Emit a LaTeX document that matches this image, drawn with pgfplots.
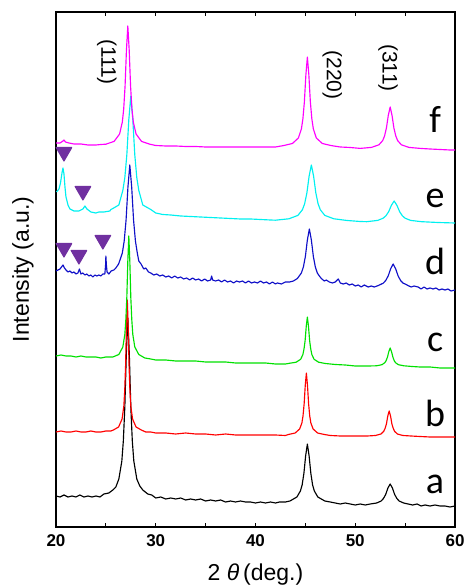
\documentclass[border=0pt]{standalone}
\usepackage{fontspec}
\setmainfont{Liberation Sans}
\newfontfamily\cali{Carlito}
\usepackage{pgfplots}
\pgfplotsset{compat=1.18}
\definecolor{cA}{HTML}{000000}
\definecolor{cB}{HTML}{FF0000}
\definecolor{cC}{HTML}{00E000}
\definecolor{cD}{HTML}{1010C8}
\definecolor{cE}{HTML}{00F0F0}
\definecolor{cF}{HTML}{FF00FF}
\definecolor{tri}{HTML}{7030A0}

\begin{document}
\begin{tikzpicture}
\begin{axis}[
    scale only axis,
    width=399bp, height=515bp,
    xmin=20, xmax=60, ymin=0, ymax=515,
    xtick={20,30,...,60},
    minor xtick={25,35,45,55},
    ytick=\empty,
    xtick pos=both,
    tick align=inside,
    major tick length=4bp, minor tick length=4bp,
    axis line style={line width=1.1bp},
    tick style={line width=1bp, black},
    /pgf/number format/assume math mode=true,
    xticklabel style={font=\bfseries\fontsize{17bp}{20bp}\selectfont, yshift=-4bp},
    xlabel={2 \textit{θ}\,(deg.)},
    xlabel style={font=\fontsize{23bp}{26bp}\selectfont, at={(axis description cs:0.5,-0.093)}, anchor=center},
    ylabel={Intensity (a.u.)},
    ylabel style={font=\fontsize{23bp}{26bp}\selectfont, at={(axis description cs:-0.083,0.5)}, anchor=center},
    clip=false,
    every axis plot/.append style={line width=1.15bp, line join=round},
]
\coordinate (sw) at (rel axis cs:0,0);
\coordinate (ne) at (rel axis cs:1,1);

% a
\addplot[cA] coordinates {
(20.0,31)(20.4,30)(20.8,32)(21.2,30)(21.6,31)(22.0,30)(22.4,32)(22.8,30)(23.2,31)(23.6,30)(24.0,31)(24.4,30)
(24.8,33)(25.3,34)(25.7,37)(26.0,40)(26.3,48)(26.6,66)(26.75,86)(26.9,120)(27.05,173)(27.2,209)(27.35,173)
(27.5,120)(27.65,86)(27.8,66)(28.1,48)(28.4,41)(28.7,37)(29.2,33)(29.6,32)(30.0,29)(30.5,30)(31.0,28)(31.5,29)
(32.0,28)(32.5,29)(33.0,27)(33.5,28)(34.0,27)(34.5,28)(35.0,26)(35.5,27)(36.0,26)(36.5,27)(37.0,25)(37.5,26)
(38.0,25)(38.5,26)(39.0,25)(39.5,25)(40.0,24)(40.5,25)(41.0,24)(41.5,25)(42.0,24)(42.4,25)(43.0,25)(43.45,26)
(43.8,28)(44.15,30)(44.5,36)(44.675,42)(44.85,53.5)(45.025,71)(45.2,83)(45.375,71)(45.55,53.5)(45.725,42)
(45.9,36)(46.25,30)(46.6,28)(46.95,26)(47.5,25)(48.0,24)(48.5,23)(49.0,24)(49.5,23)(50.0,22)(50.5,23)(51.0,22)
(51.5,23)(52.15,24)(52.6,26)(52.825,28.5)(53.05,32.5)(53.275,39)(53.5,43)(53.725,39)(53.95,32.5)(54.175,28.5)
(54.4,26)(54.85,24)(55.3,23)(55.75,22)(56.2,23)(56.6,21)(57.0,22)(57.5,21)(58.0,22)(58.5,21)(59.0,21)(59.5,20)(60.0,21)
};
% b
\addplot[cB] coordinates {
(20.0,95)(20.5,96)(21.0,95)(21.5,95)(22.0,96)(22.5,95)(23.0,95)(23.5,96)(24.0,95)(24.5,95)(25.0,96)(25.5,96)
(25.75,97)(26.275,100)(26.625,108)(26.8,121)(26.8875,136)(26.975,161)(27.0625,201)(27.15,227)(27.2375,201)
(27.325,161)(27.4125,136)(27.5,121)(27.675,108)(28.025,100)(28.55,97)(29.0,95)(29.5,95)(30.0,94)(31.0,94)
(32.0,93)(33.0,94)(34.0,93)(35.0,93)(36.0,92)(37.0,93)(38.0,92)(39.0,92)(40.0,92)(41.0,92)(42.0,92)(43.0,91.5)
(43.3,92.5)(43.975,94)(44.425,98)(44.65,104)(44.7625,111)(44.875,123)(44.9875,141.5)(45.1,154)(45.2125,141.5)
(45.325,123)(45.4375,111)(45.55,104)(45.775,98)(46.225,94)(46.9,92.5)(47.5,91.5)(48.5,91)(49.5,91)(50.5,91)
(51.2,91)(52.025,91.5)(52.575,93)(52.85,95.6)(52.9875,98.5)(53.125,103)(53.2625,111)(53.4,116)(53.5375,111)
(53.675,103)(53.8125,98.5)(53.95,95.6)(54.225,93)(54.775,91.5)(55.6,91)(56.5,90.5)(57.5,90)(58.5,90)(59.5,90)(60.0,90)
};
% c
\addplot[cC] coordinates {
(20.0,171)(20.5,172)(21.0,171)(21.5,171)(22.0,170)(22.5,171)(23.0,170)(23.5,170)(24.0,170)(24.5,169)(25.0,170)
(25.7,170)(26.3,172.5)(26.7,180)(26.9,192.5)(27.0,207)(27.1,229.5)(27.2,266)(27.3,291)(27.4,266)(27.5,229.5)
(27.6,207)(27.7,192.5)(27.9,180)(28.3,172.5)(28.9,169)(29.5,168)(30.0,167)(31.0,167)(32.0,166)(33.0,166)
(34.0,166)(35.0,165)(36.0,165)(37.0,165)(38.0,164)(39.0,164)(40.0,164)(41.0,164)(42.0,163)(43.0,163)
(43.4,163.7)(44.075,164.8)(44.525,167.7)(44.75,172.4)(44.8625,178)(44.975,186.5)(45.0875,200.6)(45.2,210)
(45.3125,200.6)(45.425,186.5)(45.5375,178)(45.65,172.4)(45.875,167.7)(46.325,164.8)(47.0,163.5)(48.0,162.5)
(49.0,162)(50.0,161)(51.3,161)(52.125,161.2)(52.675,162.3)(52.95,164.2)(53.0875,166.2)(53.225,169.8)
(53.3625,175.3)(53.5,179)(53.6375,175.3)(53.775,169.8)(53.9125,166.2)(54.05,164.2)(54.325,162.3)(54.875,161.2)
(55.7,160.5)(56.5,160)(57.5,160)(58.5,159)(59.5,159)(60.0,159)
};
% d
\addplot[cD] coordinates {
(20.0,256)(20.2,257)(20.4,258)(20.55,260)(20.7,262)(20.85,259)(21.0,257)(21.2,255)(21.4,256)(21.6,254)(21.8,255)
(22.0,253)(22.2,254)(22.35,258)(22.5,253)(22.7,254)(22.9,252)(23.1,253)(23.3,251)(23.5,252)(23.7,250)(23.9,252)
(24.1,251)(24.3,252)(24.5,251)(24.7,253)(24.9,253)(24.97,262)(25.0,271)(25.05,262)(25.12,255)(25.3,253)
(25.525,256)(25.8,257)(26.0,259)(26.275,263)(26.45,268)(26.65,274)(26.8375,286)(27.025,307)(27.2125,340)
(27.4,362)(27.5875,340)(27.775,307)(27.9625,286)(28.15,274)(28.3,266)(28.525,263)(28.8,258)(29.0,259)
(29.275,255)(29.5,254)(29.8,252)(30.1,253)(30.4,251)(30.7,252)(31.0,250)(31.3,251)(31.6,249)(31.9,251)
(32.2,249)(32.5,250)(32.8,248)(33.1,249)(33.4,247)(33.7,249)(34.0,247)(34.3,248)(34.6,246)(34.9,248)(35.2,246)
(35.5,247)(35.6,251)(35.7,247)(36.0,246)(36.3,247)(36.6,245)(36.9,247)(37.2,245)(37.5,246)(37.8,244)(38.1,246)
(38.4,245)(38.7,246)(39.0,244)(39.3,246)(39.6,244)(39.9,245)(40.2,244)(40.5,246)(40.8,244)(41.1,245)(41.4,243)
(41.7,245)(42.0,243)(42.2,244)(42.6,243)(43.0,245)(43.4,245)(43.8,246)(44.2,248.5)(44.6,254)(44.8,260)
(45.0,270.5)(45.2,287)(45.4,298)(45.6,287)(45.8,270.5)(46.0,260)(46.2,254)(46.4,251)(46.6,248.5)(46.9,246)
(47.1,247)(47.4,245)(47.7,244)(48.0,245)(48.3,248)(48.5,244)(48.8,243)(49.1,244)(49.4,242)(49.7,243)(50.0,241)
(50.3,242)(50.6,240)(50.9,242)(51.3,240)(51.6,241)(51.9,240)(52.3,241.4)(52.8,243.8)(53.05,246.4)(53.3,251)
(53.55,258.2)(53.8,263)(54.05,258.2)(54.3,251)(54.55,246.4)(54.8,243.8)(55.0,243)(55.3,241.4)(55.6,240)
(55.9,241)(56.3,240)(56.6,238)(56.9,240)(57.2,238)(57.5,239)(57.8,238)(58.1,239)(58.4,237)(58.7,238)(59.0,237)
(59.3,238)(59.6,236)(60.0,237)
};
% e
\addplot[cE] coordinates {
(20.05,335)(20.3,338)(20.45,344)(20.6,354)(20.7,359)(20.8,353)(20.9,340)(21.0,330)(21.2,322)(21.4,318)
(21.8,316)(22.3,316)(22.7,318)(22.9,321)(23.1,318)(23.5,315)(24.0,314)(24.3,315)(24.8,315)(25.4,316)
(25.5,317.5)(25.7,318.5)(26.3,322)(26.7,336.6)(26.9,349.3)(27.1,372)(27.3,407.4)(27.5,431)(27.7,407.4)
(27.9,372)(28.1,349.3)(28.3,336.6)(28.7,322)(29.5,317.5)(30.0,314)(30.7,312.5)(31.5,312)(32.5,311)
(33.5,310.5)(34.5,310)(35.5,309.5)(36.5,309)(37.5,308.5)(38.5,308)(39.5,308)(40.5,307.5)(41.5,307)(42.0,306.8)
(43.35,308.2)(44.25,311.6)(44.7,317.2)(44.925,323.2)(45.15,334)(45.375,350.8)(45.6,362)(45.825,350.8)
(46.05,334)(46.275,323.2)(46.5,317.2)(46.95,311.6)(47.85,308.2)(49.2,306.5)(50.5,305.5)(51.15,305.3)
(52.25,306.6)(52.8,308.8)(53.075,311.2)(53.35,315.3)(53.625,321.7)(53.9,326)(54.175,321.7)(54.45,315.3)
(54.725,311.2)(55.0,308.8)(55.55,306.6)(56.65,305.3)(58.3,304.5)(60.0,304)
};
% f
\addplot[cF] coordinates {
(20.0,384)(20.4,384)(20.7,386)(20.8,387)(20.95,385)(21.3,384)(21.8,383)(22.5,383)(23.2,382)(24.0,382)
(24.5,382.5)(25.0,382.8)(25.825,385.6)(26.375,393)(26.65,405)(26.7875,418)(26.925,441)(27.0625,477)(27.2,501)
(27.3375,477)(27.475,441)(27.6125,418)(27.75,405)(28.025,393)(28.575,385.6)(29.4,382.8)(30.0,381.5)(31.0,381)
(32.0,381)(33.0,380.5)(34.0,380.5)(35.0,380)(36.0,380)(37.0,380)(38.0,380)(39.0,380)(40.0,380)(41.0,380)
(42.0,380)(42.8,381.4)(43.7,383.5)(44.3,389)(44.6,398)(44.75,408)(44.9,425)(45.05,452)(45.2,470)(45.35,452)
(45.5,425)(45.65,408)(45.8,398)(46.1,389)(46.7,383.5)(47.6,381.4)(48.5,380)(49.5,379.5)(50.5,378.6)
(51.625,379.6)(52.375,382.2)(52.75,386.4)(52.9375,391)(53.125,399)(53.3125,411.6)(53.5,420)(53.6875,411.6)
(53.875,399)(54.0625,391)(54.25,386.4)(54.625,382.2)(55.375,379.6)(56.5,378.6)(57.5,378)(58.5,377.5)
(59.5,377)(60.0,377)
};
% impurity markers
\addplot[only marks, mark=triangle*, mark size=9pt, color=tri,
  mark options={rotate=180, fill=tri, draw=tri}] coordinates {
(20.8,375)(22.7,336)(20.8,279)(22.3,272)(24.7,287)
};

% curve letters
\node[anchor=base, font=\cali\fontsize{38bp}{42bp}\selectfont] at (axis cs:58,394) {f};
\node[anchor=base, font=\cali\fontsize{38bp}{42bp}\selectfont] at (axis cs:58,319) {e};
\node[anchor=base, font=\cali\fontsize{38bp}{42bp}\selectfont] at (axis cs:58,252) {d};
\node[anchor=base, font=\cali\fontsize{38bp}{42bp}\selectfont] at (axis cs:58,175) {c};
\node[anchor=base, font=\cali\fontsize{38bp}{42bp}\selectfont] at (axis cs:58,100) {b};
\node[anchor=base, font=\cali\fontsize{38bp}{42bp}\selectfont] at (axis cs:58,34) {a};

% reflection labels
\node[rotate=-90, font=\fontsize{21bp}{24bp}\selectfont] at (axis cs:25.1,465) {(111)};
\node[rotate=-90, font=\fontsize{21bp}{24bp}\selectfont] at (axis cs:47.7,452) {(220)};
\node[rotate=-90, font=\fontsize{21bp}{24bp}\selectfont] at (axis cs:53.3,459) {(311)};
\end{axis}
\pgfresetboundingbox
\path ([shift={(-56bp,-60bp)}]sw) rectangle ([shift={(9bp,12bp)}]ne);
\end{tikzpicture}
\end{document}
